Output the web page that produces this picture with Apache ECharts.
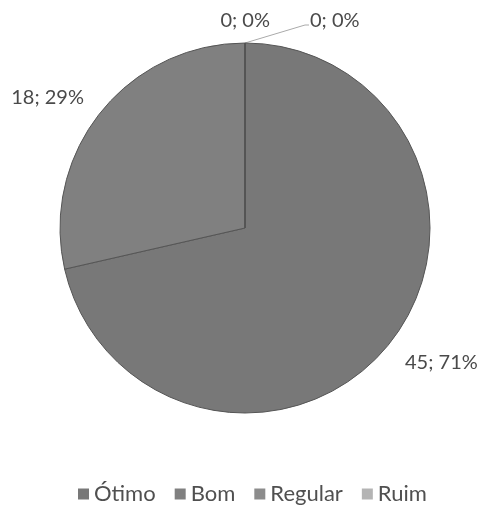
<!DOCTYPE html>
<html><head><meta charset="utf-8">
<script src="https://cdn.jsdelivr.net/npm/echarts@6/dist/echarts.min.js"></script>
<style>html,body{margin:0;padding:0;background:#fff}#c{width:482px;height:506px}</style>
</head><body><div id="c"></div>
<script>
var categories = ['Ótimo', 'Bom', 'Regular', 'Ruim'];
var values = [45, 18, 0, 0];
var percents = ['71%', '29%', '0%', '0%'];
var colors = ['#787878', '#808080', '#8c8c8c', '#b4b4b4'];

var chart = echarts.init(document.getElementById('c'));
var labelPos = [
  {x: 405, y: 363, align: 'left'},
  {x: 84, y: 98, align: 'right'},
  {x: 270, y: 21, align: 'right'},
  {x: 310, y: 21, align: 'left', line: [[245, 43], [305, 25], [309, 25]]}
];
chart.setOption({
  animation: false,
  color: colors,
  legend: {
    top: 478, left: 73,
    itemWidth: 11, itemHeight: 11, itemGap: 19,
    icon: 'rect',
    itemStyle: {borderWidth: 0},
    textStyle: {fontFamily: 'Lato', fontSize: 22, color: '#505050'},
    data: categories
  },
  series: [{
    type: 'pie',
    center: [245, 228],
    radius: [0, 185],
    startAngle: 90,
    clockwise: true,
    minShowLabelAngle: 0,
    avoidLabelOverlap: false,
    stillShowZeroSum: true,
    itemStyle: {borderColor: '#555', borderWidth: 1},
    label: {
      show: true, position: 'outside',
      fontFamily: 'Lato', fontSize: 20, color: '#4a4a4a',
      formatter: function (p) { return p.value + '; ' + percents[p.dataIndex]; }
    },
    labelLine: {show: false},
    labelLayout: function (p) {
      var lp = labelPos[p.dataIndex];
      var r = {x: lp.x, y: lp.y, align: lp.align, verticalAlign: 'middle'};
      if (lp.line) r.labelLinePoints = lp.line;
      return r;
    },
    emphasis: {disabled: true},
    data: categories.map(function (c, i) {
      var d = {name: c, value: values[i]};
      if (i === 3) {
        d.labelLine = {show: true, lineStyle: {color: '#aaa', width: 1}};
      }
      return d;
    })
  }]
});
</script></body></html>
